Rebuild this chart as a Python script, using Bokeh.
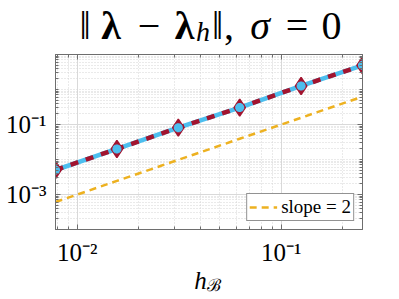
import numpy as np
from bokeh.plotting import figure
from bokeh.layouts import column
from bokeh.models import Label, Legend, LegendItem, FixedTicker, LogAxis, Range1d
from bokeh.embed import file_html
from bokeh.resources import INLINE

# ---- data ----
h = [1/128, 1/64, 1/32, 1/16, 1/8, 1/4]
err_lambda = [5.0e-3, 2.0e-2, 8.1e-2, 3.05e-1, 1.26, 4.9]
ref_slope2 = [6.1e-4, 2.44e-3, 9.77e-3, 3.91e-2, 1.56e-1, 6.25e-1]

x_major = [1e-2, 1e-1]
x_labels = ["10⁻²", "10⁻¹"]
y_major = [1e-3, 1e-1]
y_labels = ["10⁻³", "10⁻¹"]

x_minor = [k * 10.0**n for n in (-3, -2, -1) for k in range(1, 10)]
x_minor = [t for t in x_minor if 1/128 <= t <= 0.25 and t not in x_major]
y_minor = [k * 10.0**n for n in (-4, -3, -2, -1, 0) for k in range(1, 10)] + [10.0]
y_minor = [t for t in y_minor if t not in y_major]

SERIF = "Liberation Serif"
AX = "#262626"
BOX = "#6e6e6e"
W = 391
FL = 55  # frame left (pixels)


def text_strip(height):
    f = figure(width=W, height=height, output_backend="svg", toolbar_location=None,
               x_range=Range1d(0, 1), y_range=Range1d(0, 1),
               x_axis_location=None, y_axis_location=None,
               min_border=0, min_border_left=0, min_border_right=0,
               min_border_top=0, min_border_bottom=0)
    f.title.visible = False
    f.outline_line_color = None
    f.grid.visible = False
    f.background_fill_color = "white"
    f.border_fill_color = "white"
    return f


def lab(f, txt, x, y, size, style="normal"):
    f.add_layout(Label(x=x - FL, y=y, x_units="screen", y_units="screen", text=txt,
                       text_font=SERIF, text_font_size=size, text_font_style=style,
                       text_align="center", text_baseline="alphabetic",
                       text_color="black"))


# ---- title strip ----
top = text_strip(50)
tb = 25
lab(top, "‖", 84.5, tb, "40px")
lab(top, "λ", 110.5, tb, "40px", "bold")
lab(top, "−", 148.5, tb, "40px")
lab(top, "λ", 184, tb, "40px", "bold")
lab(top, "h", 202.5, 19, "28px", "italic")
lab(top, "‖", 217, tb, "40px")
lab(top, ",", 228.5, tb, "40px")
lab(top, "σ", 259.5, tb, "40px", "italic")
lab(top, "=", 296.5, tb, "40px")
lab(top, "0", 331, tb, "40px")

# ---- main plot ----
p = figure(frame_width=307, frame_height=175,
           x_axis_type="log", y_axis_type="log",
           x_range=Range1d(1/128, 0.25), y_range=Range1d(1e-4, 10),
           output_backend="svg", toolbar_location=None,
           min_border_left=55, min_border_right=29,
           min_border_top=4, min_border_bottom=38)
p.title.visible = False
p.background_fill_color = "white"
p.border_fill_color = "white"
p.outline_line_color = BOX
p.outline_line_width = 1

xt = FixedTicker(ticks=x_major, minor_ticks=x_minor)
yt = FixedTicker(ticks=y_major, minor_ticks=y_minor)

for ax, ticks, labels in ((p.xaxis[0], xt, x_labels), (p.yaxis[0], yt, y_labels)):
    ax.ticker = ticks
    ax.major_label_overrides = {t: l for t, l in zip(ticks.ticks, labels)}
    ax.major_label_text_font = SERIF
    ax.major_label_text_font_size = "25px"
    ax.major_label_text_color = "black"
    ax.axis_line_color = BOX
    ax.major_tick_line_color = BOX
    ax.minor_tick_line_color = BOX
    ax.major_tick_in = 5
    ax.major_tick_out = 0
    ax.minor_tick_in = 3
    ax.minor_tick_out = 0
p.xaxis[0].major_label_standoff = 9
p.yaxis[0].major_label_standoff = 9

for loc, tk in (("right", yt), ("above", xt)):
    a = LogAxis(ticker=tk, axis_line_color=BOX,
                major_tick_line_color=BOX, minor_tick_line_color=BOX,
                major_tick_in=5, major_tick_out=0, minor_tick_in=3, minor_tick_out=0,
                major_label_text_color=None, major_label_text_font_size="1px",
                major_label_standoff=0)
    p.add_layout(a, loc)

for g, ticks in ((p.xgrid[0], xt), (p.ygrid[0], yt)):
    g.ticker = ticks
    g.grid_line_color = "#d9d9d9"
    g.grid_line_width = 1
    g.minor_grid_line_color = "#d4d4d4"
    g.minor_grid_line_dash = "1 2"
    g.minor_grid_line_width = 1

ref = p.line(h, ref_slope2, line_color="#EDB120", line_width=2.5, line_dash="7 5")
p.line(h, err_lambda, line_color="#4DBEEE", line_width=4.5)
p.line(h, err_lambda, line_color="#A2142F", line_width=4.5, line_dash="8 8")
p.scatter(h, err_lambda, marker="diamond", size=17, fill_color="#A2142F",
          line_color="#A2142F", line_width=1.5)
p.scatter(h, err_lambda, marker="asterisk", size=9, line_color="#4DBEEE", line_width=3)

legend = Legend(items=[LegendItem(label="slope = 2", renderers=[ref])],
                location="bottom_right")
legend.margin = 8
legend.padding = 2
legend.spacing = 0
legend.glyph_width = 28
legend.glyph_height = 18
legend.label_height = 18
legend.label_standoff = 4
legend.label_text_font = SERIF
legend.label_text_font_size = "19px"
legend.label_text_color = "black"
legend.border_line_color = AX
legend.border_line_width = 1
legend.background_fill_color = "white"
legend.background_fill_alpha = 1
p.add_layout(legend)

# ---- x label strip ----
bot = text_strip(28)
lab(bot, "h", 200, 16, "25px", "italic")
lab(bot, "ℬ", 213, 11, "17px")

layout = column(top, p, bot, spacing=0)
open("out.html", "w").write(file_html(layout, INLINE))
